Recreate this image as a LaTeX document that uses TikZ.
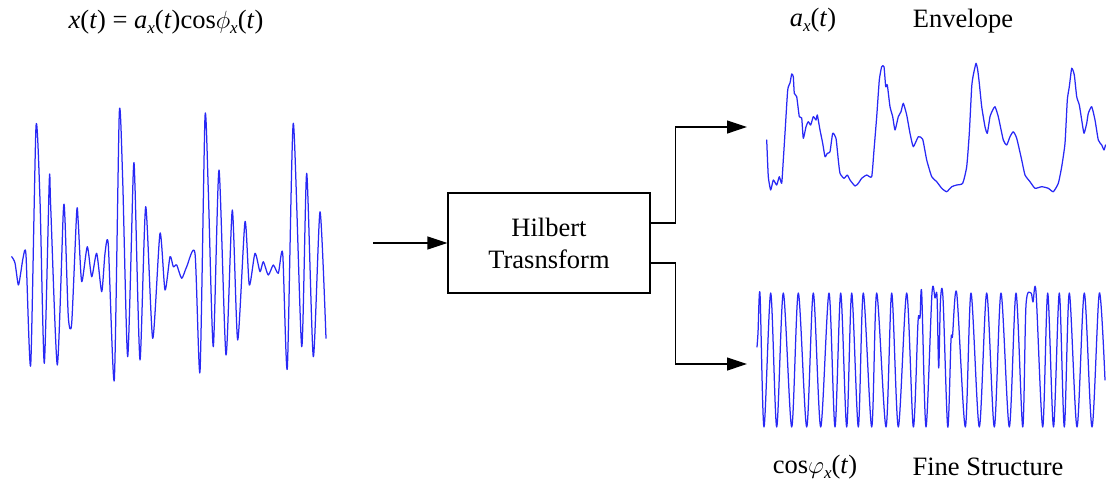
\documentclass[tikz,border=0pt]{standalone}
\usepackage{fontspec}
\setmainfont{Liberation Serif}
\usetikzlibrary{arrows.meta}
\newcommand\mi[1]{\textit{#1}}
\newcommand\sub[1]{\raisebox{-0.4ex}{\fontsize{17}{20}\selectfont\itshape #1}}
\definecolor{wave}{RGB}{40,40,245}
\begin{document}
\begin{tikzpicture}[x=1pt,y=-1pt,
  lbl/.style={inner sep=0pt,font=\fontsize{26.5}{30}\selectfont},
  htbox/.style={draw,line width=1.2pt,minimum width=202pt,minimum height=100pt,align=center,inner sep=0pt,font=\fontsize{26.5}{32}\selectfont},
  arr/.style={line width=1.2pt,-{Triangle[length=20pt,width=13pt]}},
  sig/.style={wave,line width=1.25pt,line join=round,line cap=round}]
\useasboundingbox (0,0) rectangle (1106,482);
% labels
\node[lbl] (sigl) at (166,22) {\mi{x}(\mi{t}) = \mi{a}\sub{x}(\mi{t})cos$\phi$\sub{x}(\mi{t})};
\node[lbl] (axl) at (813,20) {\mi{a}\sub{x}(\mi{t})};
\node[lbl] (envl) at (963,21) {Envelope};
\node[lbl] (cphl) at (815,467) {cos$\varphi$\sub{x}(\mi{t})};
\node[lbl] (finel) at (988,467) {Fine Structure};
% block
\node[htbox] (ht) at (549,243) {Hilbert\\Trasnsform};
\coordinate (in) at (373,243);
\coordinate (up) at (747,127);
\coordinate (dn) at (747,364);
\draw[arr] (in) -- (ht.west);
\draw[arr] ([yshift=20pt]ht.east) -- ++(25pt,0) |- (up);
\draw[arr] ([yshift=-20pt]ht.east) -- ++(25pt,0) |- (dn);
% input signal
\draw[sig] plot[smooth,tension=0.4] coordinates {
(11.7,256.7) (15,263) (18.3,285) (20.7,273) (23.3,256.7) (26,255) (30.7,365) (36,126.7) (40,200) (44.3,363.3)
(49.3,180) (50.7,206.7) (57.3,365) (63.3,211.7) (65,220) (68.3,316.7) (71.7,323.3) (76.7,211.7) (78.3,223.3)
(81.7,281.7) (87.3,246.7) (91.7,276.7) (96.7,253.3) (101.7,291.7) (105,253.3) (108.3,245) (114.3,380)
(119.3,112.7) (122.7,180) (127.7,356.7) (133.3,171.7) (135,186.7) (140,360) (145.7,206.7) (152.7,338.3)
(160,233.3) (165,290) (170,256.7) (173.3,266.7) (176.7,265) (181.7,278.3) (186.7,266.7) (195,253.3)
(200,371.7) (205,116.7) (208.3,190) (213.3,346.7) (219,170) (226,355) (232.3,210) (237.7,340) (245,221.7)
(249.3,285) (255,253.3) (260,271.7) (263.3,261.7) (268.3,275) (273.3,265) (278.3,273.3) (282.7,253.3)
(287.3,368.3) (293.3,123.3) (301.7,346.7) (306.7,173.3) (313.3,356.7) (320,211.7) (326,338.3)};
% envelope
\draw[sig] plot[smooth,tension=0.3] coordinates {
(766.7,140) (768.3,176.7) (770.7,190) (773.3,180) (776.7,185) (779.3,176.7) (781.7,183.3) (783.3,160) (785,133)
(787.7,90) (790,83) (791.7,74) (793.3,76.7) (794.3,93.3) (796.7,96.7) (799.3,116.7) (801.7,118) (803.3,138.3)
(806,126.7) (808.3,121.7) (810.7,125) (813.3,116.7) (816,120) (817.3,115) (820,130) (822.7,143.3) (825,156.7)
(827.3,153.3) (830,151.7) (832.7,133.3) (836,138.3) (838.3,160) (840,173.3) (844,178.3) (847.3,175) (850,180)
(855,186) (858.3,183.3) (861.7,178.3) (866.7,175) (871.7,176.7) (874,150) (876.7,116.7) (879.3,80) (881.7,66.7)
(884,66.7) (885.7,86.7) (887.3,85) (890,106.7) (892.7,116.7) (895,130) (898.3,116.7) (901,111.7) (903.3,103.3)
(906.7,115) (910,133.3) (913.3,146.7) (918.3,136.7) (922.7,139.3) (926.7,160) (931.7,176.7) (936.7,181.7)
(941.7,188.3) (946.7,191.7) (951.7,186.7) (956.7,185) (962.7,183.3) (966.7,166.7) (969.3,133.3) (971.7,86.7)
(973.3,75) (976,63.3) (977.7,70) (979.3,83.3) (981.7,106.7) (985,126.7) (987.3,133.3) (990,116.7) (992.7,110)
(995,106.7) (998.3,116.7) (1003.3,140) (1006.7,145) (1010,136.7) (1013.3,131.7) (1016.7,138.3) (1021.7,160)
(1025,175) (1030,181.7) (1035,188.3) (1041.7,186.7) (1048.3,188.3) (1053.3,191.7) (1058.3,183.3) (1061.7,166.7)
(1065,143.3) (1067.3,100) (1069.3,86.7) (1071.7,68.3) (1074.3,75) (1076.7,96.7) (1079.3,105) (1081.7,120)
(1084,133.3) (1086.7,123.3) (1088.3,113.3) (1091.7,106.7) (1095,120) (1098.3,140) (1101.7,145) (1104,150) (1105.5,145)};
% fine structure
\draw[sig] plot[smooth,tension=0.5] coordinates {
(757,347) (758,333) (760,294) (764,427) (770.7,293) (776.7,427) (783.3,293) (791.7,427) (798.3,293) (806.7,427)
(813.3,293) (820.7,427) (829,293) (835,427) (840.7,293) (846.7,427) (851.7,293) (858.3,427) (863.3,293)
(871.7,427) (876.7,293) (886,427) (891.7,293) (898.3,427) (906.7,293) (913.3,427) (918,322) (920,318)
(921.7,293) (926,427) (932,293) (935,298) (937,296) (938.7,368) (940.5,300) (943,298) (947.7,427) (951,340)
(952.5,336) (956.7,293) (965.3,427) (971,293) (979.3,427) (986.7,293) (994.3,427) (1001,293) (1009.3,427)
(1016,293) (1022.7,427) (1026,305) (1031,293) (1033,302) (1036,292) (1042.7,427) (1047.7,293) (1053.5,427)
(1059.3,293) (1064.3,427) (1069.3,293) (1077,427) (1084.3,293) (1092,427) (1099.3,293) (1105,380)};
\end{tikzpicture}
\end{document}
